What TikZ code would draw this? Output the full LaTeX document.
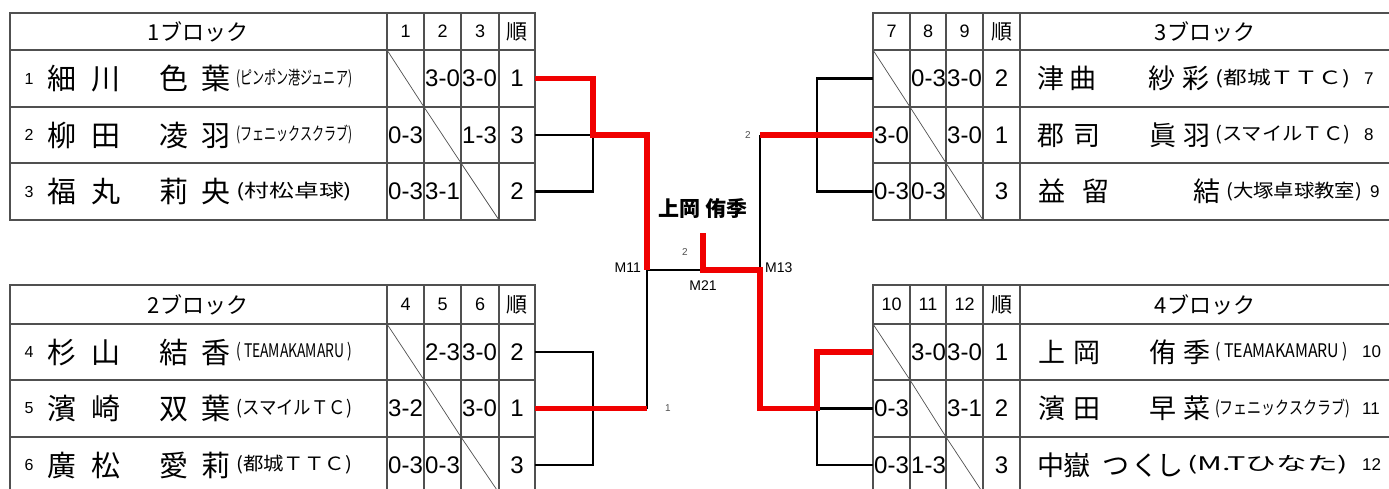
\documentclass[tikz,border=0pt]{standalone}
\usepackage{fontspec}
\usepackage{graphicx}
\setmainfont{Liberation Sans}
\newfontfamily\cjk{Noto Sans CJK JP}
\usetikzlibrary{positioning}
\definecolor{WinRed}{HTML}{F00000}
\definecolor{GridGray}{HTML}{505050}
\definecolor{LabelGray}{HTML}{505050}
\newcommand{\teamname}[2]{\resizebox*{#1}{19pt}{\cjk #2}}

\begin{document}
\begin{tikzpicture}[x=1pt, y=-1pt,
  grid/.style={draw=GridGray, line width=1.4pt},
  diag/.style={draw=GridGray, line width=0.7pt},
  blockhead/.style={font=\cjk\fontsize{22}{22}\selectfont, inner sep=0pt},
  colhead/.style={font=\fontsize{18}{18}\selectfont, inner sep=0pt},
  rankhead/.style={font=\cjk\fontsize{21}{21}\selectfont, inner sep=0pt},
  score/.style={font=\fontsize{24}{24}\selectfont, anchor=west, inner sep=0pt},
  rank/.style={font=\fontsize{24}{24}\selectfont, inner sep=0pt},
  pnum/.style={font=\fontsize{16}{16}\selectfont, inner sep=0pt},
  rnum/.style={font=\fontsize{17}{17}\selectfont, anchor=west, inner sep=0pt},
  pchar/.style={font=\cjk\fontsize{29}{29}\selectfont, anchor=base, inner sep=0pt, yshift=-11pt},
  rchar/.style={font=\cjk\fontsize{27}{27}\selectfont, anchor=base, inner sep=0pt, yshift=-10pt},
  pteam/.style={anchor=west, inner sep=0pt},
  wire/.style={draw=black, line width=2.4pt},
  win/.style={draw=WinRed, line width=5.5pt, line join=miter},
  mlabel/.style={font=\fontsize{14}{14}\selectfont, inner sep=0pt},
  tiny/.style={font=\fontsize{10}{10}\selectfont, text=LabelGray, inner sep=0pt}
]
\useasboundingbox (0,0) rectangle (1389,488);

% tables
\draw[grid] (10,13) rectangle (535,220);
\foreach \yy in {50,107,163} \draw[grid] (10,\yy) -- (535,\yy);
\foreach \xx in {387,424,461,499} \draw[grid] (\xx,13) -- (\xx,220);
\draw[grid] (10,285) rectangle (535,493);
\foreach \yy in {324,380,437} \draw[grid] (10,\yy) -- (535,\yy);
\foreach \xx in {387,424,461,499} \draw[grid] (\xx,285) -- (\xx,493);
\draw[grid] (873,13) rectangle (1395,220);
\foreach \yy in {50,107,163} \draw[grid] (873,\yy) -- (1395,\yy);
\foreach \xx in {910,946,983,1020} \draw[grid] (\xx,13) -- (\xx,220);
\draw[grid] (873,285) rectangle (1395,493);
\foreach \yy in {324,380,437} \draw[grid] (873,\yy) -- (1395,\yy);
\foreach \xx in {910,946,983,1020} \draw[grid] (\xx,285) -- (\xx,493);

% diagonals
\draw[diag] (387,50) -- (424,107) (424,107) -- (461,163) (461,163) -- (499,220);
\draw[diag] (387,324) -- (424,380) (424,380) -- (461,437) (461,437) -- (499,493);
\draw[diag] (873,50) -- (910,107) (910,107) -- (946,163) (946,163) -- (983,220);
\draw[diag] (873,324) -- (910,380) (910,380) -- (946,437) (946,437) -- (983,493);

% headers
\node[blockhead] (bh1) at (198,31.5) {1ブロック};
\node[blockhead] (bh2) at (198,304.5) {2ブロック};
\node[blockhead] (bh3) at (1205,31.5) {3ブロック};
\node[blockhead] (bh4) at (1205,304.5) {4ブロック};
\foreach \xx/\t [count=\i] in {405.5/1,442.5/2,480/3} \node[colhead] (ch1-\i) at (\xx,31.5) {\t};
\foreach \xx/\t [count=\i] in {405.5/4,442.5/5,480/6} \node[colhead] (ch2-\i) at (\xx,304.5) {\t};
\foreach \xx/\t [count=\i] in {891.5/7,928/8,964.5/9} \node[colhead] (ch3-\i) at (\xx,31.5) {\t};
\foreach \xx/\t [count=\i] in {891.5/10,928/11,964.5/12} \node[colhead] (ch4-\i) at (\xx,304.5) {\t};
\node[rankhead] (rh1) at (517,31.5) {順};
\node[rankhead] (rh2) at (517,304.5) {順};
\node[rankhead] (rh3) at (1001.5,31.5) {順};
\node[rankhead] (rh4) at (1001.5,304.5) {順};

% scores
\foreach \xx/\yy/\s [count=\i] in {425/78.5/3-0,462/78.5/3-0,388/135/0-3,462/135/1-3,388/191.5/0-3,425/191.5/3-1}
  \node[score] (sc1-\i) at (\xx,\yy) {\s};
\foreach \xx/\yy/\s [count=\i] in {425/352/2-3,462/352/3-0,388/408.5/3-2,462/408.5/3-0,388/465/0-3,425/465/0-3}
  \node[score] (sc2-\i) at (\xx,\yy) {\s};
\foreach \xx/\yy/\s [count=\i] in {911/78.5/0-3,947/78.5/3-0,874/135/3-0,947/135/3-0,874/191.5/0-3,911/191.5/0-3}
  \node[score] (sc3-\i) at (\xx,\yy) {\s};
\foreach \xx/\yy/\s [count=\i] in {911/352/3-0,947/352/3-0,874/408.5/0-3,947/408.5/3-1,874/465/0-3,911/465/1-3}
  \node[score] (sc4-\i) at (\xx,\yy) {\s};

% ranks
\foreach \yy/\k [count=\i] in {78.5/1,135/3,191.5/2} \node[rank] (rk1-\i) at (517,\yy) {\k};
\foreach \yy/\k [count=\i] in {352/2,408.5/1,465/3} \node[rank] (rk2-\i) at (517,\yy) {\k};
\foreach \yy/\k [count=\i] in {78.5/2,135/1,191.5/3} \node[rank] (rk3-\i) at (1001.5,\yy) {\k};
\foreach \yy/\k [count=\i] in {352/1,408.5/2,465/3} \node[rank] (rk4-\i) at (1001.5,\yy) {\k};

% players, left side
\foreach \yy/\n [count=\i] in {78.5/1,135/2,191.5/3,352/4,408.5/5,465/6} \node[pnum] (pn\i) at (29,\yy) {\n};
\foreach \xx/\ch [count=\i] in {62/細,106/川,174/色,216/葉} \node[pchar] (p1c\i) at (\xx,78.5) {\ch};
\foreach \xx/\ch [count=\i] in {62/柳,106/田,174/凌,216/羽} \node[pchar] (p2c\i) at (\xx,135) {\ch};
\foreach \xx/\ch [count=\i] in {62/福,106/丸,174/莉,216/央} \node[pchar] (p3c\i) at (\xx,191.5) {\ch};
\foreach \xx/\ch [count=\i] in {62/杉,106/山,174/結,216/香} \node[pchar] (p4c\i) at (\xx,352) {\ch};
\foreach \xx/\ch [count=\i] in {62/濱,106/崎,174/双,216/葉} \node[pchar] (p5c\i) at (\xx,408.5) {\ch};
\foreach \xx/\ch [count=\i] in {62/廣,106/松,174/愛,216/莉} \node[pchar] (p6c\i) at (\xx,465) {\ch};
\node[pteam] (t1) at (236,78.5) {\teamname{116pt}{(ピンポン港ジュニア)}};
\node[pteam] (t2) at (236,135) {\teamname{116pt}{(フェニックスクラブ)}};
\node[pteam] (t3) at (236,191.5) {\teamname{116pt}{(村松卓球)}};
\node[pteam] (t4) at (236,352) {\teamname{116pt}{( TEAMAKAMARU )}};
\node[pteam] (t5) at (236,408.5) {\teamname{116pt}{(スマイルＴＣ)}};
\node[pteam] (t6) at (236,465) {\teamname{116pt}{(都城ＴＴＣ)}};

% players, right side
\foreach \xx/\ch [count=\i] in {1051/津,1083/曲,1162/紗,1196/彩} \node[rchar] (p7c\i) at (\xx,78.5) {\ch};
\foreach \xx/\ch [count=\i] in {1051/郡,1087/司,1163/眞,1197/羽} \node[rchar] (p8c\i) at (\xx,135) {\ch};
\foreach \xx/\ch [count=\i] in {1052/益,1096/留,1207/結} \node[rchar] (p9c\i) at (\xx,191.5) {\ch};
\foreach \xx/\ch [count=\i] in {1052/上,1087/岡,1163/侑,1197/季} \node[rchar] (p10c\i) at (\xx,352) {\ch};
\foreach \xx/\ch [count=\i] in {1052/濱,1087/田,1163/早,1197/菜} \node[rchar] (p11c\i) at (\xx,408.5) {\ch};
\foreach \xx/\ch [count=\i] in {1051/中,1077/嶽,1116/つ,1145/く,1170/し} \node[rchar] (p12c\i) at (\xx,465) {\ch};
\node[pteam] (t7) at (1215,78.5) {\teamname{135pt}{(都城ＴＴＣ)}};
\node[pteam] (t8) at (1215,135) {\teamname{135pt}{(スマイルＴＣ)}};
\node[pteam] (t9) at (1226,191.5) {\teamname{136pt}{(大塚卓球教室)}};
\node[pteam] (t10) at (1215,352) {\teamname{133pt}{( TEAMAKAMARU )}};
\node[pteam] (t11) at (1215,408.5) {\teamname{135pt}{(フェニックスクラブ)}};
\node[pteam] (t12) at (1187,465) {\teamname{161pt}{(M.Tひなた)}};
\node[rnum] (pn7) at (1364,78.5) {7};
\node[rnum] (pn8) at (1364,135) {8};
\node[rnum] (pn9) at (1370,191.5) {9};
\node[rnum] (pn10) at (1362,352) {10};
\node[rnum] (pn11) at (1362,408.5) {11};
\node[rnum] (pn12) at (1362,465) {12};

% bracket points
\coordinate (b1r1) at (535,78.5);  \coordinate (b1j1) at (593,78.5);
\coordinate (b1r2) at (535,135);   \coordinate (b1j2) at (593,135);
\coordinate (b1r3) at (535,191.5); \coordinate (b1j3) at (593,191.5);
\coordinate (b2r1) at (535,352);   \coordinate (b2j1) at (593,352);
\coordinate (b2r2) at (535,408.5); \coordinate (b2j2) at (593,408.5);
\coordinate (b2r3) at (535,465);   \coordinate (b2j3) at (593,465);
\coordinate (b3r1) at (873,78.5);  \coordinate (b3j1) at (817,78.5);
\coordinate (b3r2) at (873,135);   \coordinate (b3j2) at (817,135);
\coordinate (b3r3) at (873,191.5); \coordinate (b3j3) at (817,191.5);
\coordinate (b4r1) at (873,352);   \coordinate (b4j1) at (817,352);
\coordinate (b4r2) at (873,408.5); \coordinate (b4j2) at (817,408.5);
\coordinate (b4r3) at (873,465);   \coordinate (b4j3) at (817,465);
\coordinate (m11t) at (647,135);  \coordinate (m11) at (647,270);  \coordinate (m11b) at (647,408.5);
\coordinate (m13t) at (760,135);  \coordinate (m13) at (760,270);  \coordinate (m13b) at (760,408.5);
\coordinate (m21t) at (703,233);  \coordinate (m21) at (703,270);

% black wires
\draw[wire] (b1r2) -- (b1j2) -- (b1j3) -- (b1r3);
\draw[wire] (b2r1) -- (b2j1) -- (b2j3) -- (b2r3);
\draw[wire] (b3r1) -- (b3j1) -- (b3j3) -- (b3r3);
\draw[wire] (b4r2) -- (b4j2) -- (b4j3) -- (b4r3);
\draw[wire] (m11) -- (m11b);
\draw[wire] (m11) -- (m21);
\draw[wire] (m13t) -- (m13);

% winners
\draw[win] (b1r1) -- (b1j1) -- (b1j2) -- (m11t) -- (m11);
\draw[win] (b2r2) -- (m11b);
\draw[win] (m13t) -- (b3r2);
\draw[win] (m21t) -- (m21) -- (m13) -- (m13b) -- (b4j2) -- (b4j1) -- (b4r1);

% labels
\node[mlabel, anchor=east] (lm11) at ([xshift=-6pt, yshift=2pt]m11) {M11};
\node[mlabel, anchor=west] (lm13) at ([xshift=5pt, yshift=2pt]m13) {M13};
\node[mlabel, below=11pt of m21] (lm21) {M21};
\node[tiny] (sc21) at (685,252) {2};
\node[tiny, anchor=east] (sc13) at ([xshift=-9pt]m13t) {2};
\node[tiny, anchor=west] (sc11) at ([xshift=18pt]m11b) {1};
\node[font=\cjk\bfseries\fontsize{21}{21}\selectfont, inner sep=0pt] (champ) at (703,209) {上岡 侑季};
\end{tikzpicture}
\end{document}
